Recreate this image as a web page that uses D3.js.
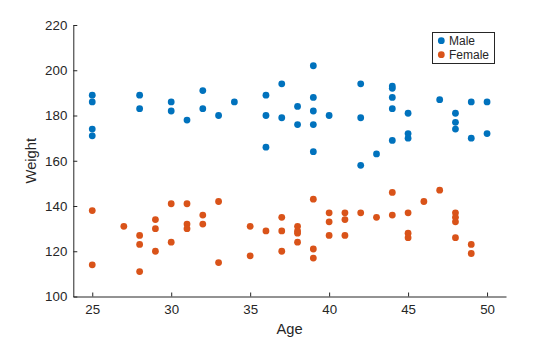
<!DOCTYPE html>
<html><head><meta charset="utf-8">
<script src="https://cdn.jsdelivr.net/npm/d3@7"></script>
<style>
html,body{margin:0;padding:0;background:#fff;}
svg text{font-family:"Liberation Sans",Arial,Helvetica,sans-serif;fill:#262626;}
</style></head>
<body><svg id="c" width="560" height="337"></svg>
<script>
const maleAge =    [25,25,25,25,28,28,30,30,31,32,32,33,34,36,36,36,37,37,38,38,39,39,39,39,39,40,42,42,42,43,44,44,44,44,44,45,45,45,47,48,48,48,49,49,50,50];
const maleWeight = [189,186,174,171,189,183,186,182,178,191,183,180,186,189,180,166,194,179,184,176,202,188,182,176,164,180,194,179,158,163,193,192,188,183,169,181,172,170,187,181,177,174,186,170,186,172];
const femaleAge =    [25,25,27,28,28,28,29,29,29,30,30,31,31,31,32,32,33,33,35,35,36,37,37,37,38,38,38,38,39,39,39,40,40,40,41,41,41,42,43,44,44,45,45,45,46,47,48,48,48,48,49,49];
const femaleWeight = [138,114,131,127,123,111,134,130,120,141,124,141,132,130,136,132,142,115,131,118,129,135,129,120,131,129,128,124,143,121,117,137,133,127,137,134,127,137,135,146,136,137,128,126,142,147,137,135,133,126,123,119];
const xTicks = [25,30,35,40,45,50];
const yTicks = [100,120,140,160,180,200,220];
const seriesNames = ["Male","Female"];
const colors = ["#0072BD","#D95319"];

const svg = d3.select("#c");
const L = 73.3, R = 506, T = 25, B = 296.5;
const x = d3.scaleLinear().domain([23.8, 51.2]).range([L, R]);
const y = d3.scaleLinear().domain([100, 220]).range([B, T]);

const gx = svg.append("g").attr("transform", `translate(0,${B})`)
  .call(d3.axisBottom(x).tickValues(xTicks).tickSize(-4).tickPadding(8).tickSizeOuter(0));
const gy = svg.append("g").attr("transform", `translate(${L},0)`)
  .call(d3.axisLeft(y).tickValues(yTicks).tickSize(-4).tickPadding(6).tickSizeOuter(0));
[gx, gy].forEach(g => {
  g.select(".domain").attr("stroke", "#262626").attr("stroke-width", 1);
  g.selectAll(".tick line").attr("stroke", "#262626");
  g.selectAll(".tick text").attr("font-size", "13.3px").attr("fill", "#262626")
    .attr("font-family", '"Liberation Sans",Arial,sans-serif');
});

svg.append("text").attr("x", (L + R) / 2).attr("y", 334).attr("text-anchor", "middle")
  .attr("font-size", "14.7px").text("Age");
svg.append("text").attr("transform", `translate(36,${(T + B) / 2}) rotate(-90)`)
  .attr("text-anchor", "middle").attr("font-size", "14.7px").text("Weight");

const series = [[maleAge, maleWeight], [femaleAge, femaleWeight]];
series.forEach(([ax, wy], i) => {
  svg.append("g").selectAll("circle").data(ax).join("circle")
    .attr("cx", d => x(d)).attr("cy", (d, j) => y(wy[j])).attr("r", 3.4)
    .attr("fill", colors[i]);
});

const lg = svg.append("g");
lg.append("rect").attr("x", 432.5).attr("y", 32.5).attr("width", 62).attr("height", 31)
  .attr("fill", "#fff").attr("stroke", "#262626").attr("stroke-width", 1);
seriesNames.forEach((n, i) => {
  lg.append("circle").attr("cx", 441.3).attr("cy", 40.7 + i * 14).attr("r", 3.4).attr("fill", colors[i]);
  lg.append("text").attr("x", 449).attr("y", 40.7 + i * 14).attr("dy", "0.35em")
    .attr("font-size", "12px").text(n);
});
</script></body></html>
